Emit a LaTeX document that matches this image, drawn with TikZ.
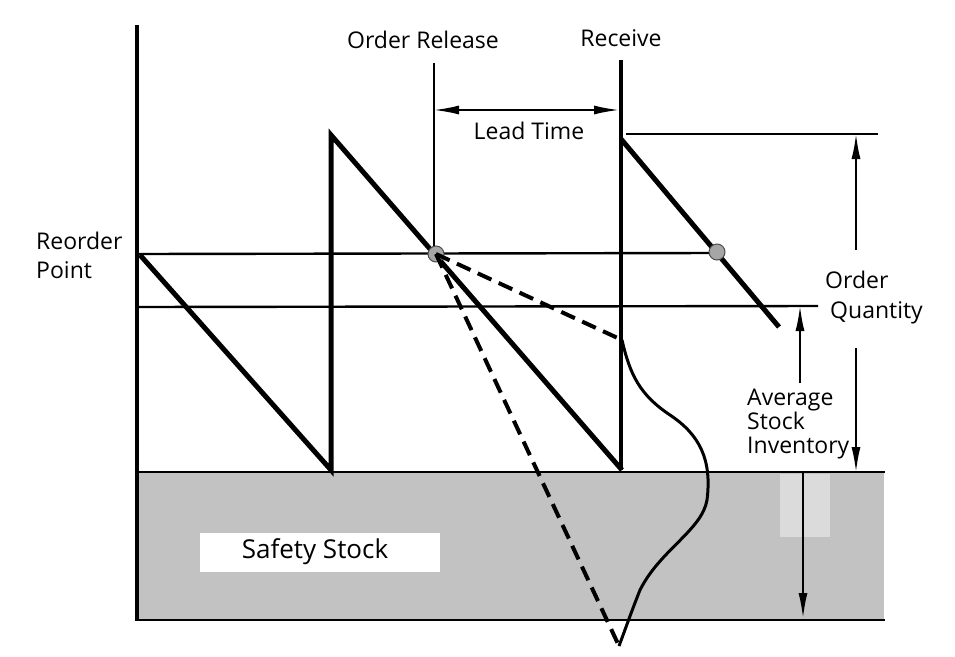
\documentclass[tikz,border=0pt]{standalone}
\usepackage{fontspec}
\setmainfont{Open Sans}
\usetikzlibrary{arrows.meta}

\begin{document}
\begin{tikzpicture}[
    x=1pt, y=-1pt,
    saw/.style={line width=5pt, line join=miter},
    guide/.style={line width=2.4pt},
    dashline/.style={line width=4pt, dash pattern=on 15pt off 8pt},
    dim/.style={line width=1.8pt, -{Latex[length=25pt,width=9pt]}},
    twoway/.style={line width=1.8pt, {Latex[length=25pt,width=9pt]}-{Latex[length=25pt,width=9pt]}},
    lbl/.style={font=\fontsize{23}{26}\selectfont, inner sep=0pt},
    dot/.style={circle, fill=gray!70, draw=black!70, line width=1pt, minimum size=16pt, inner sep=0pt}
]
    \useasboundingbox (0,0) rectangle (955,656);
    % safety stock band
    \fill[black!24] (137,472) rectangle (884,620);
    \fill[black!14] (780,474) rectangle (830,537);
    \fill[white] (200,533) rectangle (440,572);
    \node[lbl, font=\fontsize{26}{28}\selectfont] (ss) at (315,552) {Safety Stock};
    % axis and levels
    \draw[line width=3.5pt] (137,25) -- (137,621);
    \draw[guide] (137,472) -- (885,472);
    \draw[guide] (137,620) -- (885,620);
    \draw[guide] (137,254) -- (717,253);
    \draw[guide] (137,307) -- (818,306);
    \draw[guide] (626,134) -- (878,134);
    % sawtooth
    \draw[saw] (140,255) -- (331,470) -- (331,135) -- (622,470);
    \draw[line width=4pt] (621,60) -- (621,470);
    \draw[saw] (621,139) -- (779,327);
    \draw[line width=2.6pt] (434,63) -- (434,254);
    \node[dot] (rp1) at (436,254) {};
    \node[dot] (rp2) at (717,252) {};
    % demand during lead time
    \coordinate (hi) at (622,340);
    \coordinate (lo) at (619,646);
    \draw[dashline] (rp1.center) -- (hi);
    \draw[dashline] (rp1.center) -- (lo);
    \draw[line width=3pt] (hi) .. controls (630,375) and (640,395) .. (670,415)
        .. controls (700,435) and (712,460) .. (707,500)
        .. controls (702,530) and (660,550) .. (640,590)
        .. controls (632,610) and (625,630) .. (lo);
    % dimensions
    \draw[twoway] (434,110) -- (619,110);
    \draw[dim] (856,250) -- (856,134);
    \draw[dim] (856,348) -- (856,472);
    \draw[dim] (800,383) -- (800,306);
    \draw[dim] (803,472) -- (803,618);
    % labels
    \node[lbl, anchor=north] (rel) at (423,31) {Order Release};
    \node[lbl, anchor=north] (rcv) at (621,29) {Receive};
    \node[lbl, anchor=north] (lead) at (529,122) {Lead Time};
    \node[lbl, anchor=north west, align=left, font=\fontsize{23}{29}\selectfont] (rplbl) at (36,232) {Reorder\\Point};
    \node[lbl, anchor=north west, align=left, font=\fontsize{23}{30}\selectfont] (oq) at (825,271) {Order\\\hspace{5pt}Quantity};
    \node[lbl, anchor=north west, align=left, font=\fontsize{23}{24}\selectfont] (avg) at (747,389) {Average\\Stock\\Inventory};
\end{tikzpicture}
\end{document}
